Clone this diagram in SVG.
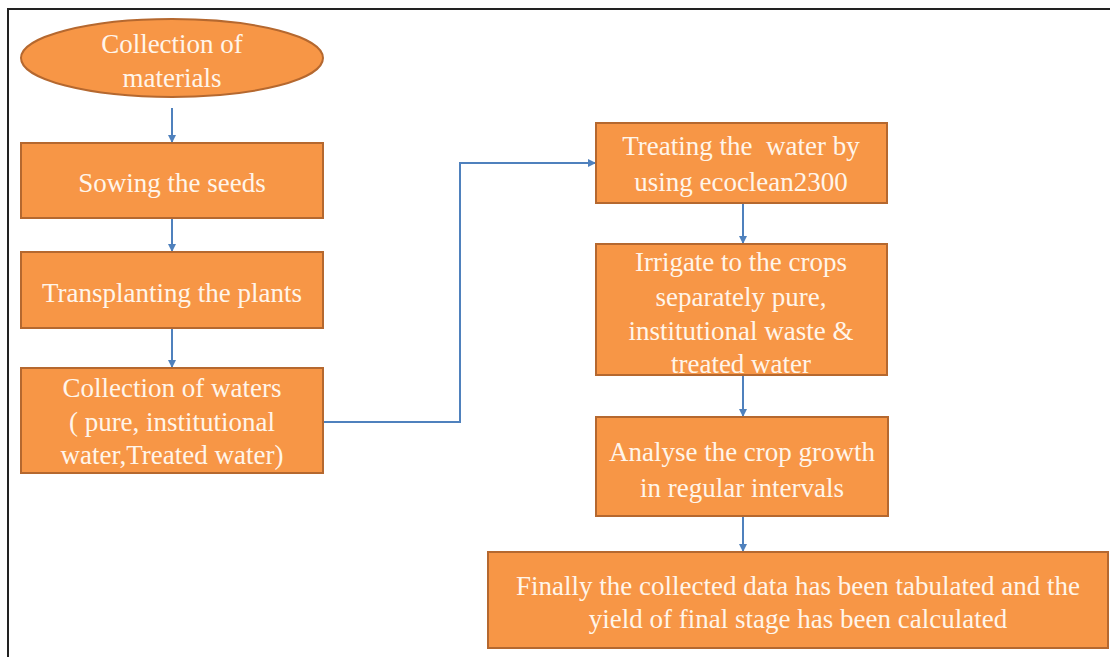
<svg xmlns="http://www.w3.org/2000/svg" width="1110" height="657" viewBox="0 0 1110 657">
<defs>
<style>
.box{fill:#F79646;stroke:#B5682F;stroke-width:2}
.t{font-family:"Liberation Serif",serif;font-size:27px;fill:#FFF5EA;text-anchor:middle;white-space:pre}
.c{fill:none;stroke:#4F81BD;stroke-width:2}
</style>
<marker id="ah" viewBox="0 0 10 10" refX="10" refY="5" markerWidth="4" markerHeight="4" orient="auto" markerUnits="strokeWidth">
<path d="M0,0 L10,5 L0,10 z" fill="#4F81BD"/>
</marker>
</defs>
<rect x="0" y="0" width="1110" height="657" fill="#FFFFFF"/>
<path d="M8,657 L8,9 L1110,9" fill="none" stroke="#222222" stroke-width="2"/>
<g id="connectors">
<line class="c" x1="172" y1="108" x2="172" y2="143" marker-end="url(#ah)"/>
<line class="c" x1="172" y1="218" x2="172" y2="252" marker-end="url(#ah)"/>
<line class="c" x1="172" y1="328" x2="172" y2="368" marker-end="url(#ah)"/>
<polyline class="c" points="323,422 460,422 460,163 596,163" marker-end="url(#ah)"/>
<line class="c" x1="743" y1="203" x2="743" y2="244" marker-end="url(#ah)"/>
<line class="c" x1="743" y1="375" x2="743" y2="417" marker-end="url(#ah)"/>
<line class="c" x1="743" y1="516" x2="743" y2="552" marker-end="url(#ah)"/>
</g>
<g id="n1">
<ellipse class="box" cx="172" cy="58" rx="151" ry="39"/>
<text class="t" x="172" y="53">Collection of</text>
<text class="t" x="172" y="87">materials</text>
</g>
<g id="n2">
<rect class="box" x="21" y="143" width="302" height="75"/>
<text class="t" x="172" y="192">Sowing the seeds</text>
</g>
<g id="n3">
<rect class="box" x="21" y="252" width="302" height="76"/>
<text class="t" x="172" y="302">Transplanting the plants</text>
</g>
<g id="n4">
<rect class="box" x="21" y="368" width="302" height="105"/>
<text class="t" x="172" y="397">Collection of waters</text>
<text class="t" x="172" y="431">( pure, institutional</text>
<text class="t" x="172" y="464">water,Treated water)</text>
</g>
<g id="n5">
<rect class="box" x="596" y="123" width="291" height="80"/>
<text class="t" x="741" y="155" xml:space="preserve">Treating the  water by</text>
<text class="t" x="741" y="191">using ecoclean2300</text>
</g>
<g id="n6">
<rect class="box" x="596" y="244" width="291" height="131"/>
<text class="t" x="741" y="271">Irrigate to the crops</text>
<text class="t" x="741" y="306">separately pure,</text>
<text class="t" x="741" y="340">institutional waste &amp;</text>
<text class="t" x="741" y="373">treated water</text>
</g>
<g id="n7">
<rect class="box" x="596" y="417" width="292" height="99"/>
<text class="t" x="742" y="461">Analyse the crop growth</text>
<text class="t" x="742" y="497">in regular intervals</text>
</g>
<g id="n8">
<rect class="box" x="488" y="552" width="620" height="96"/>
<text class="t" x="798" y="595">Finally the collected data has been tabulated and the</text>
<text class="t" x="798" y="628">yield of final stage has been calculated</text>
</g>
</svg>
